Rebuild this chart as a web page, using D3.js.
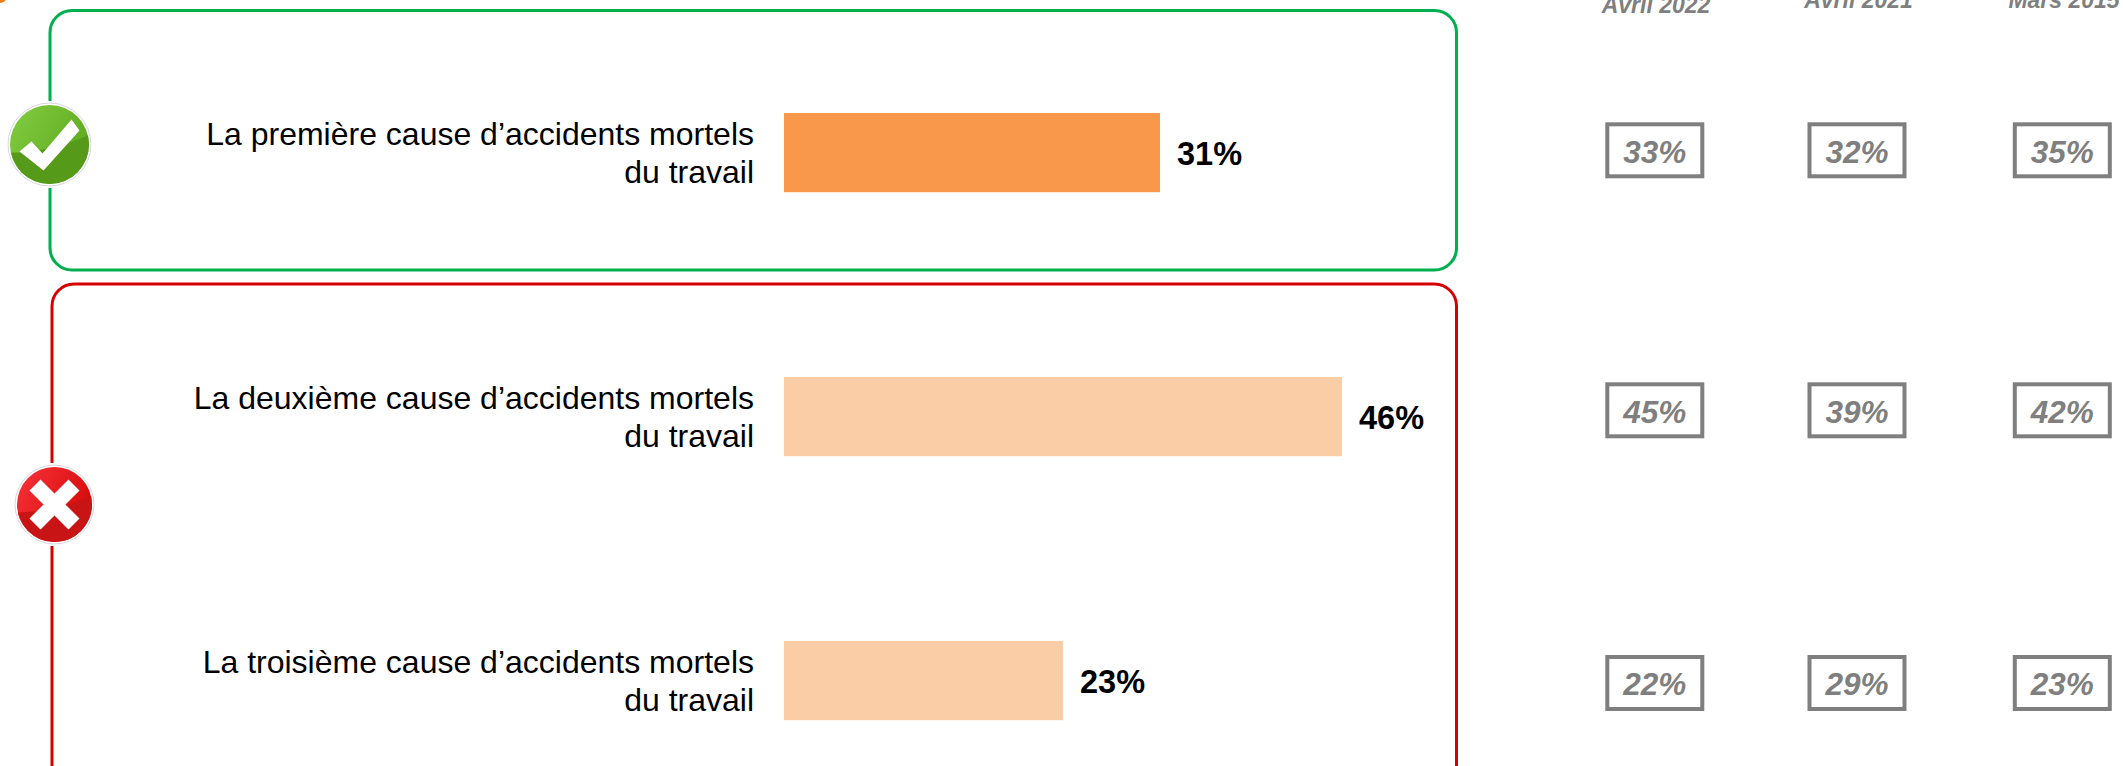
<!DOCTYPE html>
<html><head><meta charset="utf-8">
<script src="https://cdn.jsdelivr.net/npm/d3@7/dist/d3.min.js"></script>
<style>html,body{margin:0;padding:0;background:#fff;overflow:hidden}svg{display:block}text{font-family:"Liberation Sans",Arial,sans-serif}</style>
</head><body><svg id="c" width="2123" height="766"></svg>
<script>
const categories = ["La première cause d’accidents mortels","La deuxième cause d’accidents mortels","La troisième cause d’accidents mortels"];
const labelSecondLine = "du travail";
const currentValues = [31,46,23];
const barColors = ["#F9984A","#FBCDA7","#FBCDA7"];
const waves = ["Avril 2022","Avril 2021","Mars 2015"];
const wave2022 = [33,45,22];
const wave2021 = [32,39,29];
const wave2019 = [35,42,23];
const history = [wave2022,wave2021,wave2019];

const svg = d3.select("#c");
const x = d3.scaleLinear().domain([0,46]).range([784,1342]);
const y = d3.scaleBand().domain(categories).range([20.6,812.6]).paddingInner(0.7).paddingOuter(0.35);
const boxX = d3.scaleOrdinal(waves,[1654.8,1857,2062.3]);
const headX = d3.scaleOrdinal(waves,[1656,1858.5,2064]);
const headY = d3.scaleOrdinal(waves,[12.5,8,8]);
const boxY = d3.scaleOrdinal(categories,[150.3,410.3,683]);

svg.append("path").attr("d",d3.arc()({innerRadius:0,outerRadius:7,startAngle:Math.PI/2,endAngle:Math.PI})).attr("transform","translate(0,-4)").attr("fill","#F07D1A");

// frames
svg.append("rect").attr("x",50).attr("y",10.5).attr("width",1406.5).attr("height",259.5).attr("rx",22)
  .attr("fill","none").attr("stroke","#00B050").attr("stroke-width",3);
svg.append("rect").attr("x",52).attr("y",284).attr("width",1404.5).attr("height",510).attr("rx",22)
  .attr("fill","none").attr("stroke","#D60000").attr("stroke-width",3);

// bars
const rows = svg.selectAll("g.row").data(categories).join("g").attr("class","row");
const mid = d => y(d)+y.bandwidth()/2;
rows.append("rect").attr("x",x(0)).attr("y",d=>y(d)).attr("height",y.bandwidth())
  .attr("width",(d,i)=>x(currentValues[i])-x(0)).attr("fill",(d,i)=>barColors[i]);
rows.append("text").attr("x",(d,i)=>x(currentValues[i])+17).attr("y",d=>mid(d)+12.5)
  .attr("font-size",32.5).attr("font-weight","bold").attr("fill","#000").text((d,i)=>currentValues[i]+"%");
rows.append("text").attr("x",754).attr("y",d=>mid(d)-8).attr("text-anchor","end")
  .attr("font-size",32).attr("fill","#000").text(d=>d);
rows.append("text").attr("x",754).attr("y",d=>mid(d)+30.5).attr("text-anchor","end")
  .attr("font-size",32).attr("fill","#000").text(labelSecondLine);

// wave headers and history boxes
waves.forEach((w,j)=>{
  svg.append("text").attr("x",headX(w)).attr("y",headY(w)).attr("text-anchor","middle")
    .attr("font-size",23).attr("font-weight","bold").attr("font-style","italic").attr("fill","#7F7F7F").text(w);
  const g = svg.selectAll("g.h"+j).data(categories).join("g").attr("class","h"+j);
  g.append("rect").attr("x",boxX(w)-47.5).attr("width",95).attr("y",d=>boxY(d)-26).attr("height",52)
    .attr("fill","#fff").attr("stroke","#7F7F7F").attr("stroke-width",4);
  g.append("text").attr("x",boxX(w)).attr("y",d=>boxY(d)+12.2).attr("text-anchor","middle")
    .attr("font-size",31.5).attr("font-weight","bold").attr("font-style","italic").attr("fill","#7F7F7F")
    .text((d,i)=>history[j][i]+"%");
});

// icons
const defs = svg.append("defs");
function grad(id,a,b){const g=defs.append("linearGradient").attr("id",id).attr("x1",0).attr("y1",0).attr("x2",1).attr("y2",0.6);
 g.append("stop").attr("offset",0).attr("stop-color",a);g.append("stop").attr("offset",1).attr("stop-color",b);}
grad("gg","#82CE42","#5EA81E");grad("gr","#F8343A","#D40808");
function icon(id,cx0,cy,r,fill,shade,path){
  const g=svg.append("g").attr("transform",`translate(${cx0},${cy})`);
  g.append("rect").attr("x",-r-1).attr("y",-r-2).attr("width",2*r+2).attr("height",2*r+4).attr("fill","#fff");
  g.append("circle").attr("r",r).attr("fill","#fff").attr("stroke","#d8d8d8").attr("stroke-width",1);
  g.append("circle").attr("r",r-2).attr("fill",`url(#${fill})`);
  defs.append("clipPath").attr("id",id).append("circle").attr("r",r-2);
  g.append("path").attr("clip-path",`url(#${id})`).attr("fill",shade)
    .attr("d",`M${-r},${r*0.2} Q0,${r*0.2} ${r},${-r*0.25} L${r},${r} L${-r},${r} Z`);
  g.append("path").attr("d",path).attr("fill","#fff");
}
icon("cg",49.5,144.5,41.5,"gg","#559A18","M-30,7 L-18,-3 L-7,9 L22,-25 L30,-14 L-6,26 Z");
icon("cr",54.5,504.5,39.5,"gr","#C81414","M-25,-14 L-14,-25 L0,-11 L14,-25 L25,-14 L11,0 L25,14 L14,25 L0,11 L-14,25 L-25,14 L-11,0 Z");
</script></body></html>
